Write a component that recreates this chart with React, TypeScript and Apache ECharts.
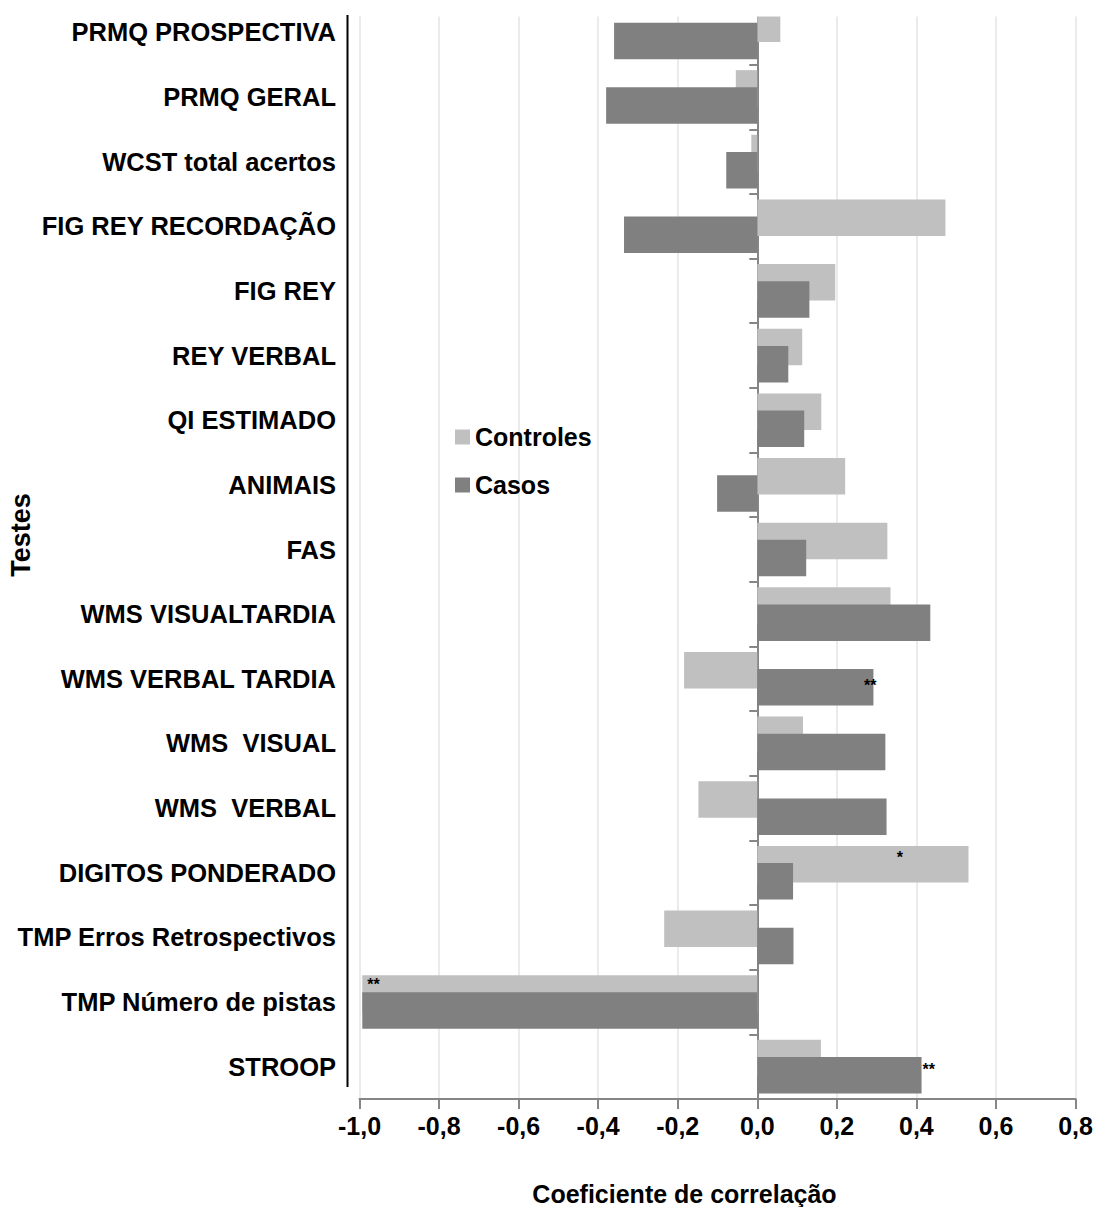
import React, { useEffect, useRef } from 'react';
import * as echarts from 'echarts';

const categories = [
  'PRMQ PROSPECTIVA',
  'PRMQ GERAL',
  'WCST total acertos',
  'FIG REY RECORDAÇÃO',
  'FIG REY',
  'REY VERBAL',
  'QI ESTIMADO',
  'ANIMAIS',
  'FAS',
  'WMS VISUALTARDIA',
  'WMS VERBAL TARDIA',
  'WMS  VISUAL',
  'WMS  VERBAL',
  'DIGITOS PONDERADO',
  'TMP Erros Retrospectivos',
  'TMP Número de pistas',
  'STROOP',
];
const controles = [0.058, -0.054, -0.015, 0.473, 0.196, 0.113, 0.161, 0.221, 0.327, 0.335, -0.184, 0.115, -0.148, 0.531, -0.234, -0.993, 0.16];
const casos = [-0.36, -0.38, -0.078, -0.335, 0.131, 0.078, 0.118, -0.101, 0.123, 0.435, 0.292, 0.322, 0.325, 0.09, 0.091, -0.993, 0.413];
const seriesNames = ['Controles', 'Casos'];
const xMin = -1.0;
const xMax = 0.8;
const xStep = 0.2;
const xTitle = 'Coeficiente de correlação';
const yTitle = 'Testes';
const significance = [
  { category: 'WMS VERBAL TARDIA', series: 'Casos', mark: '**' },
  { category: 'DIGITOS PONDERADO', series: 'Controles', mark: '*' },
  { category: 'TMP Número de pistas', series: 'Controles', mark: '**' },
  { category: 'STROOP', series: 'Casos', mark: '**' },
];

// label placement for each significance mark (style only)
const markPlacement: any[] = [
  { position: 'insideRight', distance: 0, offset: [3, -2] },
  { position: 'inside', distance: 0, offset: [37, -7] },
  { position: 'insideLeft', distance: 5, offset: [0, -9] },
  { position: 'right', distance: 1, offset: [0, -5.5] },
];

const FONT = '"Liberation Sans", Arial, sans-serif';
const colors: Record<string, string> = { Controles: '#c0c0c0', Casos: '#808080' };

function buildData(name: string, values: number[]) {
  return values.map((v, i) => {
    const k = significance.findIndex((s) => s.series === name && s.category === categories[i]);
    if (k < 0) return v;
    const p = markPlacement[k];
    return {
      value: v,
      label: {
        show: true,
        formatter: significance[k].mark,
        position: p.position,
        distance: p.distance,
        offset: p.offset,
        fontSize: 16,
        fontWeight: 'bold',
        fontFamily: FONT,
        color: '#000',
      },
    };
  });
}

export default function App() {
  const ref = useRef<HTMLDivElement>(null);
  useEffect(() => {
    if (!ref.current) return;
    const chart = echarts.init(ref.current, null, { renderer: 'svg' });
    const valuesByName: Record<string, number[]> = { Controles: controles, Casos: casos };
    chart.setOption({
      animation: false,
      backgroundColor: '#fff',
      grid: { left: 359.5, right: 23.5, top: -6, bottom: 108, containLabel: false },
      legend: {
        orient: 'vertical',
        left: 455,
        top: 424.5,
        padding: 0,
        itemWidth: 15,
        itemHeight: 15,
        itemGap: 23,
        icon: 'rect',
        data: seriesNames,
        textStyle: { fontSize: 25, fontWeight: 'bold', color: '#000', fontFamily: FONT },
      },
      xAxis: {
        type: 'value',
        min: xMin,
        max: xMax,
        interval: xStep,
        position: 'bottom',
        axisLine: { show: true, onZero: false, lineStyle: { color: '#868686', width: 2 } },
        axisTick: { show: true, length: 10, lineStyle: { color: '#868686', width: 2 } },
        axisLabel: {
          margin: 14,
          fontSize: 25,
          fontWeight: 'bold',
          color: '#000',
          fontFamily: FONT,
          formatter: (v: number) => (Math.abs(v) < 1e-9 ? 0 : v).toFixed(1).replace('.', ','),
        },
        splitLine: { show: true, lineStyle: { color: '#ebebeb', width: 2 } },
      },
      yAxis: [
        {
          type: 'category',
          data: categories,
          inverse: true,
          position: 'left',
          axisLine: { show: false, onZero: false },
          axisTick: { show: false },
          axisLabel: { margin: 23.5, fontSize: 25.5, fontWeight: 'bold', color: '#000', fontFamily: FONT },
          splitLine: { show: false },
        },
        {
          type: 'category',
          data: categories,
          inverse: true,
          position: 'right',
          axisLine: { show: true, onZero: true, lineStyle: { color: '#868686', width: 2 } },
          axisTick: { show: true, inside: true, length: 8, lineStyle: { color: '#868686', width: 2 } },
          axisLabel: { show: false },
          splitLine: { show: false },
        },
      ],
      series: seriesNames.map((name) => ({
        name,
        type: 'bar',
        yAxisIndex: 0,
        barWidth: 36.5,
        barGap: '-53%',
        itemStyle: { color: colors[name] },
        data: buildData(name, valuesByName[name]),
      })),
      graphic: [
        { type: 'rect', shape: { x: 352, y: 0, width: 747, height: 16.5 }, style: { fill: '#fff' }, z: 100 },
        { type: 'line', shape: { x1: 347.5, y1: 15, x2: 347.5, y2: 1087 }, style: { stroke: '#000', lineWidth: 2 }, z: 101 },
        {
          type: 'text',
          x: 684.5,
          y: 1193.5,
          z: 101,
          style: { text: xTitle, fontSize: 25, fontWeight: 'bold', fontFamily: FONT, fill: '#000', align: 'center', verticalAlign: 'middle' },
        },
        {
          type: 'text',
          x: 21,
          y: 535,
          rotation: Math.PI / 2,
          z: 101,
          style: { text: yTitle, fontSize: 27, fontWeight: 'bold', fontFamily: FONT, fill: '#000', align: 'center', verticalAlign: 'middle' },
        },
      ],
    });
    return () => chart.dispose();
  }, []);
  return <div ref={ref} style={{ position: 'absolute', left: 0, top: 0, width: 1099, height: 1207 }} />;
}
